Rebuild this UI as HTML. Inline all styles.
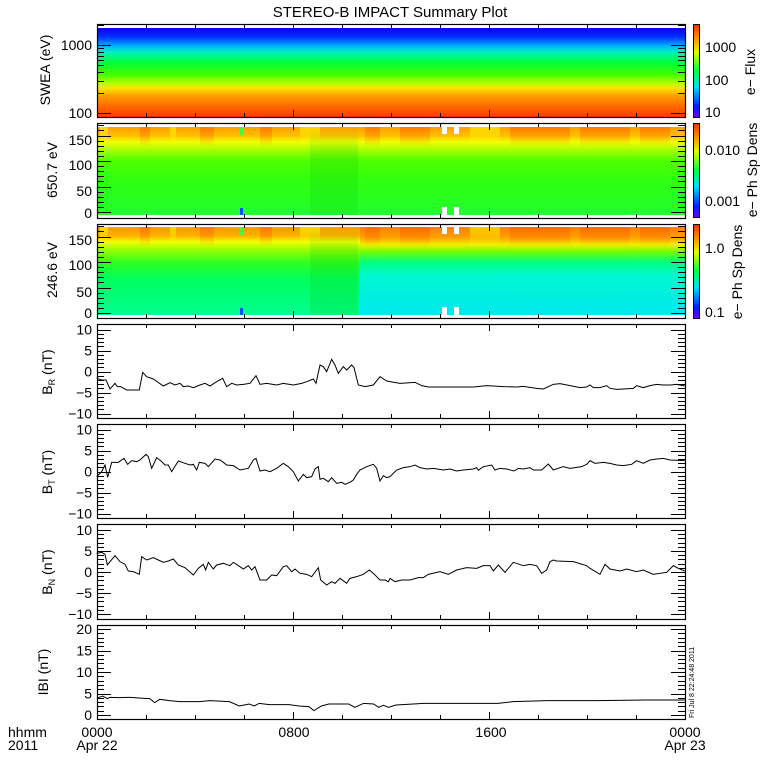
<!DOCTYPE html>
<html><head><meta charset="utf-8"><style>
body{margin:0;background:#fff}
svg{display:block}
text{font-family:"Liberation Sans",sans-serif;fill:#000}
</style></head><body>
<svg id="s" width="780" height="780" viewBox="0 0 780 780" xmlns="http://www.w3.org/2000/svg">
<defs>
<linearGradient id="g1" x1="0" y1="0" x2="0" y2="1">
<stop offset="0" stop-color="#1000f0"/><stop offset="0.1" stop-color="#0030ff"/>
<stop offset="0.2" stop-color="#00b0ff"/><stop offset="0.27" stop-color="#00f0c0"/>
<stop offset="0.38" stop-color="#00ff40"/><stop offset="0.52" stop-color="#40ff00"/>
<stop offset="0.62" stop-color="#b0ff00"/><stop offset="0.68" stop-color="#ffe000"/>
<stop offset="0.76" stop-color="#ffa000"/><stop offset="0.9" stop-color="#ff6000"/>
<stop offset="1" stop-color="#ff3800"/></linearGradient>
<linearGradient id="g2" x1="0" y1="0" x2="0" y2="1">
<stop offset="0" stop-color="#ffa000"/><stop offset="0.1" stop-color="#ffc000"/>
<stop offset="0.17" stop-color="#f0ff00"/><stop offset="0.25" stop-color="#b0ff00"/>
<stop offset="0.38" stop-color="#50ff00"/><stop offset="0.6" stop-color="#30ff10"/>
<stop offset="1" stop-color="#20ff30"/></linearGradient>
<linearGradient id="g3" x1="0" y1="0" x2="0" y2="1">
<stop offset="0" stop-color="#ff9a00"/><stop offset="0.1" stop-color="#ffb000"/>
<stop offset="0.17" stop-color="#f0ff00"/><stop offset="0.25" stop-color="#a0ff00"/>
<stop offset="0.4" stop-color="#30ff20"/><stop offset="0.6" stop-color="#00ff60"/>
<stop offset="1" stop-color="#00ff90"/></linearGradient>
<linearGradient id="g3b" x1="0" y1="0" x2="0" y2="1">
<stop offset="0" stop-color="#ff8000"/><stop offset="0.12" stop-color="#ffa000"/>
<stop offset="0.2" stop-color="#f0f000"/><stop offset="0.28" stop-color="#70ff00"/>
<stop offset="0.4" stop-color="#00ff80"/><stop offset="0.55" stop-color="#00f8d0"/>
<stop offset="1" stop-color="#00e8f0"/></linearGradient>
<linearGradient id="cb" x1="0" y1="1" x2="0" y2="0">
<stop offset="0" stop-color="#7000ff"/><stop offset="0.12" stop-color="#0020ff"/>
<stop offset="0.33" stop-color="#00e0ff"/><stop offset="0.5" stop-color="#00ff40"/>
<stop offset="0.7" stop-color="#e0ff00"/><stop offset="0.85" stop-color="#ff9000"/>
<stop offset="1" stop-color="#ff3000"/></linearGradient>
<linearGradient id="sf" x1="0" y1="0" x2="0" y2="1">
<stop offset="0" stop-color="#ff5000" stop-opacity="0.45"/><stop offset="1" stop-color="#ff5000" stop-opacity="0"/></linearGradient>
<linearGradient id="sy" x1="0" y1="0" x2="0" y2="1">
<stop offset="0" stop-color="#ffff00" stop-opacity="0.6"/><stop offset="1" stop-color="#ffff00" stop-opacity="0"/></linearGradient>
<linearGradient id="sg" x1="0" y1="0" x2="0" y2="1">
<stop offset="0" stop-color="#00c000" stop-opacity="0"/><stop offset="0.3" stop-color="#00c000" stop-opacity="0.18"/><stop offset="1" stop-color="#00c000" stop-opacity="0.18"/></linearGradient>
</defs>
<text x="390" y="17" font-size="15" text-anchor="middle">STEREO-B IMPACT Summary Plot</text>
<rect x="97" y="28" width="588" height="89" fill="url(#g1)"/>
<rect x="97" y="127" width="588" height="88" fill="url(#g2)"/>
<rect x="97" y="227" width="588" height="88" fill="url(#g3)"/>
<rect x="360" y="227" width="325" height="88" fill="url(#g3b)"/>
<g id="stripes"></g>
<g fill="#fff"><rect x="442" y="127" width="5" height="7"/><rect x="454" y="127" width="5" height="7"/>
<rect x="442" y="207" width="5" height="8"/><rect x="454" y="207" width="5" height="8"/>
<rect x="442" y="227" width="5" height="7"/><rect x="454" y="227" width="5" height="7"/>
<rect x="442" y="307" width="5" height="8"/><rect x="454" y="307" width="5" height="8"/></g>
<rect x="240" y="127" width="3" height="8" fill="#40ff40"/><rect x="240" y="227" width="3" height="8" fill="#40ff40"/>
<rect x="240" y="208" width="3" height="7" fill="#0050ff"/><rect x="240" y="308" width="3" height="7" fill="#0050ff"/>
<g stroke="#000" stroke-width="1">
<rect x="693.5" y="24.5" width="6" height="93" fill="url(#cb)"/>
<rect x="693.5" y="123.5" width="6" height="94" fill="url(#cb)"/>
<rect x="693.5" y="224.5" width="6" height="94" fill="url(#cb)"/>
</g>
<g font-size="14">
<text x="705" y="52">1000</text><text x="705" y="85">100</text><text x="705" y="117">10</text>
<text x="705" y="155">0.010</text><text x="705" y="206">0.001</text>
<text x="705" y="253">1.0</text><text x="705" y="317">0.1</text>
<text transform="translate(755 72) rotate(-90)" text-anchor="middle">e− Flux</text>
<text transform="translate(757 170) rotate(-90)" text-anchor="middle">e− Ph Sp Dens</text>
<text transform="translate(742 272) rotate(-90)" text-anchor="middle">e− Ph Sp Dens</text>
<text transform="translate(50 70) rotate(-90)" text-anchor="middle">SWEA (eV)</text>
<text transform="translate(57 170) rotate(-90)" text-anchor="middle">650.7 eV</text>
<text transform="translate(57 270) rotate(-90)" text-anchor="middle">246.6 eV</text>
<text transform="translate(52 372) rotate(-90)" text-anchor="middle">B<tspan font-size="9" dy="3">R</tspan><tspan dy="-3"> (nT)</tspan></text>
<text transform="translate(52 472) rotate(-90)" text-anchor="middle">B<tspan font-size="9" dy="3">T</tspan><tspan dy="-3"> (nT)</tspan></text>
<text transform="translate(52 572) rotate(-90)" text-anchor="middle">B<tspan font-size="9" dy="3">N</tspan><tspan dy="-3"> (nT)</tspan></text>
<text transform="translate(48 672) rotate(-90)" text-anchor="middle">IBI (nT)</text>
<text x="92" y="50" text-anchor="end">1000</text><text x="92" y="118" text-anchor="end">100</text>
<text x="92" y="145" text-anchor="end">150</text><text x="92" y="170" text-anchor="end">100</text><text x="92" y="196" text-anchor="end">50</text><text x="92" y="218" text-anchor="end">0</text>
<text x="92" y="245" text-anchor="end">150</text><text x="92" y="270" text-anchor="end">100</text><text x="92" y="297" text-anchor="end">50</text><text x="92" y="318" text-anchor="end">0</text>
</g>
<g id="axes"></g>
<g font-size="14">
<text x="8" y="737">hhmm</text><text x="8" y="750">2011</text>
<text x="97" y="737" text-anchor="middle">0000</text><text x="97" y="750" text-anchor="middle">Apr 22</text>
<text x="294" y="737" text-anchor="middle">0800</text>
<text x="491" y="737" text-anchor="middle">1600</text>
<text x="685" y="737" text-anchor="middle">0000</text><text x="685" y="750" text-anchor="middle">Apr 23</text>
</g>
<text transform="translate(694 718) rotate(-90)" font-size="7">Fri Jul  8 22:24:48 2011</text>
<g fill="none" stroke="#000" stroke-width="1">
<g transform="translate(0 315) scale(0.33333)"><polyline vector-effect="non-scaling-stroke" points="290,190 305,195 318,195 330,222 345,205 352,215 362,215 380,225 400,225 418,225 428,172 440,185 460,192 490,213 510,203 525,210 540,205 550,215 565,213 580,218 600,210 615,205 630,213 650,200 668,190 680,215 695,205 710,210 730,208 750,205 768,182 780,208 800,205 830,210 850,205 880,210 905,205 920,200 940,192 948,205 960,150 970,155 980,170 995,133 1005,150 1015,175 1030,155 1040,165 1055,150 1062,158 1075,210 1095,215 1120,210 1140,185 1160,198 1170,200"/>
<polyline vector-effect="non-scaling-stroke" points="290,485 305,470 315,450 323,487 335,442 355,442 372,430 383,448 395,437 410,440 420,435 438,418 445,425 455,460 470,428 485,440 495,450 505,450 515,470 535,438 555,445 570,450 580,448 590,465 598,442 615,445 625,455 645,432 660,435 670,442 680,450 700,452 720,465 745,460 760,435 768,430 780,468 795,465 810,470 830,460 850,445 865,455 880,470 895,498 910,478 920,488 935,485 945,462 955,455 960,493 970,490 985,500 995,488 1010,505 1025,502 1035,508 1050,502 1060,495 1070,478 1080,465 1100,455 1120,448 1130,460 1140,498 1150,482 1160,488 1170,485"/>
<polyline vector-effect="non-scaling-stroke" points="290,715 305,712 315,718 322,750 330,740 345,722 360,740 375,748 385,768 400,770 418,778 425,725 440,735 460,728 475,735 490,742 505,738 520,732 535,750 555,758 580,780 595,760 610,748 617,765 625,742 640,762 650,750 670,745 690,752 700,742 720,755 730,762 745,752 755,765 765,755 780,795 800,795 815,780 830,782 850,755 860,752 875,770 885,762 900,775 920,778 935,785 955,758 962,795 980,810 995,800 1005,805 1020,790 1040,805 1050,790 1070,785 1090,778 1108,765 1120,775 1140,795 1155,795 1165,800 1170,790"/></g>
<g transform="translate(390 315) scale(0.33333)"><polyline vector-effect="non-scaling-stroke" points="0,200 30,205 75,202 95,212 115,216 250,216 290,212 340,215 380,216 400,214 440,220 460,222 490,208 510,206 540,212 570,218 590,216 600,210 610,218 630,218 650,212 660,220 680,223 700,222 730,220 740,212 760,218 780,212 800,208 820,210 840,210 860,208 884,213"/>
<polyline vector-effect="non-scaling-stroke" points="0,485 20,465 40,458 60,455 75,450 90,458 110,462 130,460 160,465 180,462 200,468 220,465 250,462 260,458 265,466 280,455 305,450 315,465 330,460 350,462 372,468 385,460 400,462 420,458 430,465 455,465 475,447 490,465 510,458 520,455 540,460 575,455 590,448 600,437 615,445 640,442 660,445 680,450 700,452 725,448 740,437 760,445 780,435 800,432 820,430 840,435 884,437"/>
<polyline vector-effect="non-scaling-stroke" points="0,790 15,800 35,795 60,795 85,788 100,788 115,778 150,770 175,778 200,765 230,758 260,760 280,752 300,752 310,768 325,750 345,772 370,742 400,752 420,748 440,752 455,775 470,765 480,740 490,735 500,738 550,740 590,752 600,760 630,778 645,748 660,762 690,768 710,762 740,770 760,765 790,778 830,772 850,752 865,760 884,768"/></g>
<g transform="translate(0.5 600) scale(0.4975 0.33333)"><polyline vector-effect="non-scaling-stroke" points="194,295 205,288 215,296 220,292 240,293 260,292 290,295 300,296 310,308 320,298 340,302 360,305 400,305 420,302 460,305 480,318 500,312 510,318 520,310 540,314 580,314 600,318 620,320 630,332 645,318 660,312 700,312 712,322 730,310 750,312 760,322 770,316 780,322 795,315 830,312 850,310 1000,310 1030,305 1100,302 1200,302 1300,300 1376,300"/></g>
</g>
</svg>
<script>
var NS="http://www.w3.org/2000/svg",ax=document.getElementById("axes"),st=document.getElementById("stripes");
function el(t,a,p){var e=document.createElementNS(NS,t);for(var k in a)e.setAttribute(k,a[k]);(p||ax).appendChild(e);return e;}
var sx=[[100,8,"sy"],[140,10,"sf"],[170,6,"sy"],[200,14,"sf"],[260,12,"sf"],[300,20,"sy"],[365,15,"sf"],[400,30,"sf"],[470,30,"sy"],[510,60,"sf"],[580,50,"sf"],[640,30,"sf"]];
sx.forEach(function(s){[127,227].forEach(function(y0){el("rect",{x:s[0],y:y0,width:s[1],height:20,fill:"url(#"+s[2]+")"},st);});});
el("rect",{x:310,y:227,width:48,height:88,fill:"url(#sg)"},st);
el("rect",{x:310,y:127,width:48,height:88,fill:"url(#sg)"},st);
var P=[[24,117],[123,218],[224,318],[324,418],[424,518],[524,619],[625,719]];
var L=97,R=685;
P.forEach(function(p,i){
 el("rect",{x:L+0.5,y:p[0]+0.5,width:R-L,height:p[1]-p[0],fill:"none",stroke:"#000","stroke-width":1.2});
 for(var h=0;h<=24;h+=2){var x=L+(R-L)*h/24+0.5,len=(h%8==0)?7:4;
  el("line",{x1:x,x2:x,y1:p[0],y2:p[0]+len,stroke:"#000"});el("line",{x1:x,x2:x,y1:p[1],y2:p[1]-len,stroke:"#000"});}
 var ys=[];
 if(i==0){[100,200,300,400,500,600,700,800,900,1000,2000].forEach(function(v){var y=113-(Math.log10(v)-2)*68;if(y>p[0])ys.push([y,(v==100||v==1000)]);});}
 else if(i<3){var z=i==1?212:313;for(var v=0;v<=170;v+=10){ys.push([z-v*0.51,v%50==0]);}}
 else if(i<6){var c=(p[0]+p[1])/2+0.5;for(var v=-10;v<=10;v+=1){ys.push([c-v*4.2,v%5==0]);}
  var g=el("g",{"font-size":14,"text-anchor":"end"});[10,5,0,-5,-10].forEach(function(v){var t=el("text",{x:92,y:c-v*4.2+5},g);t.textContent=(v<0?"\u2212"+(-v):v);});}
 else {for(var v=0;v<=20;v+=1){ys.push([715-v*4.3,v%5==0]);}
  var g=el("g",{"font-size":14,"text-anchor":"end"});[20,15,10,5,0].forEach(function(v){var t=el("text",{x:92,y:715-v*4.3+5},g);t.textContent=v;});}
 ys.forEach(function(q){var y=Math.round(q[0])+0.5,len=q[1]?14:7;
  el("line",{x1:L,x2:L+len,y1:y,y2:y,stroke:"#000"});el("line",{x1:R,x2:R-len,y1:y,y2:y,stroke:"#000"});});
});
</script>
</body></html>
